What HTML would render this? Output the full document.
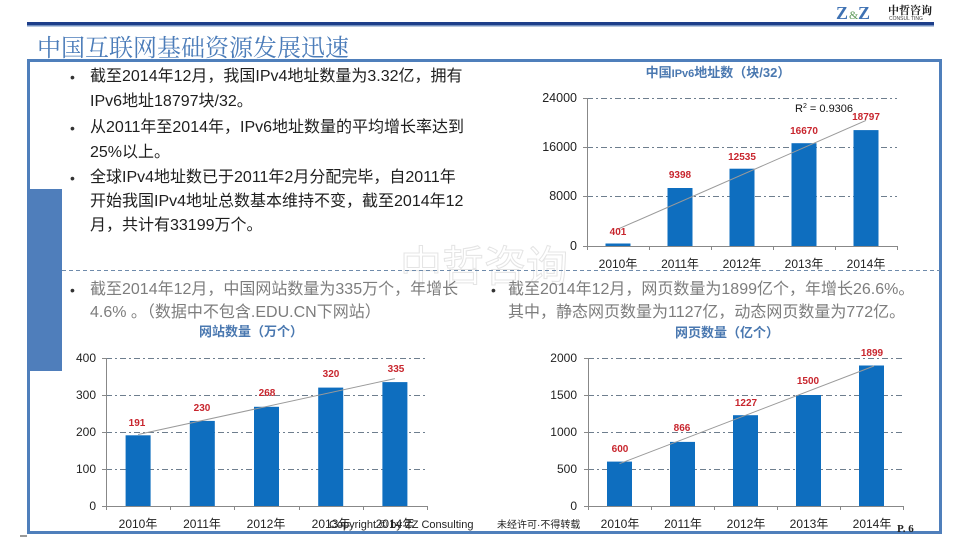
<!DOCTYPE html>
<html><head><meta charset="utf-8">
<style>
html,body{margin:0;padding:0;}
body{width:960px;height:540px;overflow:hidden;background:#fff;position:relative;font-family:"Liberation Sans","Noto Sans CJK SC",sans-serif;}
.t{position:absolute;white-space:nowrap;font-size:16px;line-height:20px;color:#1e1e1e;}
.g{color:#7d7d7d;}
.bl{position:absolute;font-size:14px;line-height:20px;color:#333;}
</style></head><body>
<svg width="960" height="540" viewBox="0 0 960 540" style="position:absolute;left:0;top:0" font-family="Liberation Sans, Noto Sans CJK SC, sans-serif">
  <!-- header lines -->
  <rect x="27" y="22" width="907" height="3" fill="#1d3e8a"/>
  <rect x="27" y="25" width="907" height="1.5" fill="#7290c0"/>
  <!-- logo -->
  <text x="836" y="19" font-family="Liberation Serif, serif" font-weight="bold" font-size="18" fill="#3f72b3">Z</text>
  <text x="849" y="19" font-family="Liberation Serif, serif" font-size="12" fill="#5f9a5a">&amp;</text>
  <text x="858" y="19" font-family="Liberation Serif, serif" font-weight="bold" font-size="18" fill="#3f72b3">Z</text>
  <text x="888" y="14" font-family="Noto Serif CJK SC, serif" font-weight="bold" font-size="11" fill="#222">中哲咨询</text>
  <text x="889" y="20" font-size="5" fill="#444">CONSUL TING</text>
  <!-- title -->
  <text x="37" y="56" font-family="Noto Serif CJK SC, serif" font-size="24" fill="#4b7cb9">中国互联网基础资源发展迅速</text>
  <!-- frame -->
  <rect x="28.5" y="60.5" width="912" height="472" fill="none" stroke="#4f7fbb" stroke-width="3"/>
  <rect x="27" y="189" width="35" height="182" fill="#4f7ebb"/>
  <line x1="20" y1="536" x2="27" y2="536" stroke="#333" stroke-width="1"/>
  <!-- watermark -->
  <text x="400" y="281" font-family="Noto Sans CJK SC, sans-serif" font-size="42" fill="none" stroke="#e4e4e4" stroke-width="1">中哲咨询</text>
  <!-- dashed divider -->
  <line x1="62" y1="270.5" x2="940" y2="270.5" stroke="#6f8bab" stroke-width="1" stroke-dasharray="4 3"/>

  <!-- ===== Chart 1 ===== -->
  <text x="718" y="77" text-anchor="middle" font-weight="bold" font-size="13" fill="#4a78b0">中国<tspan font-size="11">IPv6</tspan>地址数（块/32）</text>
  <g stroke="#6e7e8e" stroke-width="1" stroke-dasharray="6 3 2 3">
    <line x1="587" y1="98.5" x2="897" y2="98.5"/>
    <line x1="587" y1="147.5" x2="897" y2="147.5"/>
    <line x1="587" y1="196.5" x2="897" y2="196.5"/>
  </g>
  <g stroke="#888" stroke-width="1">
    <line x1="587.5" y1="98" x2="587.5" y2="246"/>
    <line x1="587" y1="246.5" x2="897" y2="246.5"/>
    <line x1="583" y1="98.5" x2="587" y2="98.5"/><line x1="583" y1="147.5" x2="587" y2="147.5"/><line x1="583" y1="196.5" x2="587" y2="196.5"/><line x1="583" y1="246.5" x2="587" y2="246.5"/>
    <line x1="587.5" y1="246" x2="587.5" y2="250"/><line x1="649.5" y1="246" x2="649.5" y2="250"/><line x1="711.5" y1="246" x2="711.5" y2="250"/><line x1="773.5" y1="246" x2="773.5" y2="250"/><line x1="835.5" y1="246" x2="835.5" y2="250"/><line x1="897.5" y1="246" x2="897.5" y2="250"/>
  </g>
  <g font-size="12.5" fill="#222" text-anchor="end">
    <text x="577" y="102">24000</text><text x="577" y="151">16000</text><text x="577" y="200">8000</text><text x="577" y="250">0</text>
  </g>
  <g fill="#0e6ebf">
    <rect x="605.5" y="243.5" width="25" height="2.5"/>
    <rect x="667.5" y="188" width="25" height="58"/>
    <rect x="729.5" y="168.7" width="25" height="77.3"/>
    <rect x="791.5" y="143.2" width="25" height="102.8"/>
    <rect x="853.5" y="130.1" width="25" height="115.9"/>
  </g>
  <line x1="618" y1="229.1" x2="866" y2="120.4" stroke="#9a9a9a" stroke-width="1"/>
  <g font-size="10" font-weight="bold" fill="#c8262e" text-anchor="middle">
    <text x="618" y="235">401</text><text x="680" y="178">9398</text><text x="742" y="160">12535</text><text x="804" y="134">16670</text><text x="866" y="120">18797</text>
  </g>
  <text x="795" y="112" font-size="11" fill="#111">R<tspan font-size="7" dy="-4">2</tspan><tspan dy="4"> = 0.9306</tspan></text>
  <g font-size="12" fill="#222" text-anchor="middle">
    <text x="618" y="268">2010年</text><text x="680" y="268">2011年</text><text x="742" y="268">2012年</text><text x="804" y="268">2013年</text><text x="866" y="268">2014年</text>
  </g>

  <!-- ===== Chart 2 ===== -->
  <text x="251" y="336" text-anchor="middle" font-weight="bold" font-size="13" fill="#4a78b0">网站数量（万个）</text>
  <g stroke="#6e7e8e" stroke-width="1" stroke-dasharray="6 3 2 3">
    <line x1="106" y1="358.5" x2="427" y2="358.5"/>
    <line x1="106" y1="395.5" x2="427" y2="395.5"/>
    <line x1="106" y1="432.5" x2="427" y2="432.5"/>
    <line x1="106" y1="469.5" x2="427" y2="469.5"/>
  </g>
  <g stroke="#888" stroke-width="1">
    <line x1="106.5" y1="358" x2="106.5" y2="506"/>
    <line x1="106" y1="506.5" x2="427" y2="506.5"/>
    <line x1="102" y1="358.5" x2="106" y2="358.5"/><line x1="102" y1="395.5" x2="106" y2="395.5"/><line x1="102" y1="432.5" x2="106" y2="432.5"/><line x1="102" y1="469.5" x2="106" y2="469.5"/><line x1="102" y1="506.5" x2="106" y2="506.5"/>
    <line x1="106.5" y1="506" x2="106.5" y2="510"/><line x1="170.5" y1="506" x2="170.5" y2="510"/><line x1="234.5" y1="506" x2="234.5" y2="510"/><line x1="299.5" y1="506" x2="299.5" y2="510"/><line x1="363.5" y1="506" x2="363.5" y2="510"/><line x1="427.5" y1="506" x2="427.5" y2="510"/>
  </g>
  <g font-size="12" fill="#222" text-anchor="end">
    <text x="96" y="362">400</text><text x="96" y="399">300</text><text x="96" y="436">200</text><text x="96" y="473">100</text><text x="96" y="510">0</text>
  </g>
  <g fill="#0e6ebf">
    <rect x="125.6" y="435.3" width="25" height="70.7"/>
    <rect x="189.8" y="420.9" width="25" height="85.1"/>
    <rect x="254" y="406.8" width="25" height="99.2"/>
    <rect x="318.2" y="387.6" width="25" height="118.4"/>
    <rect x="382.4" y="382.1" width="25" height="123.9"/>
  </g>
  <line x1="138.1" y1="434.5" x2="394.9" y2="378.6" stroke="#9a9a9a" stroke-width="1"/>
  <g font-size="10" font-weight="bold" fill="#c8262e" text-anchor="middle">
    <text x="137" y="426">191</text><text x="202" y="411">230</text><text x="267" y="396">268</text><text x="331" y="377">320</text><text x="396" y="372">335</text>
  </g>
  <g font-size="12" fill="#222" text-anchor="middle">
    <text x="138" y="528">2010年</text><text x="202" y="528">2011年</text><text x="266" y="528">2012年</text><text x="331" y="528">2013年</text><text x="395" y="528">2014年</text>
  </g>
  <text x="329" y="528" font-size="11" fill="#222">Copyright © by ZZ Consulting</text>

  <!-- ===== Chart 3 ===== -->
  <text x="727" y="337" text-anchor="middle" font-weight="bold" font-size="13" fill="#4a78b0">网页数量（亿个）</text>
  <g stroke="#6e7e8e" stroke-width="1" stroke-dasharray="6 3 2 3">
    <line x1="588" y1="358.5" x2="903" y2="358.5"/>
    <line x1="588" y1="395.5" x2="903" y2="395.5"/>
    <line x1="588" y1="432.5" x2="903" y2="432.5"/>
    <line x1="588" y1="469.5" x2="903" y2="469.5"/>
  </g>
  <g stroke="#888" stroke-width="1">
    <line x1="588.5" y1="358" x2="588.5" y2="506"/>
    <line x1="588" y1="506.5" x2="903" y2="506.5"/>
    <line x1="584" y1="358.5" x2="588" y2="358.5"/><line x1="584" y1="395.5" x2="588" y2="395.5"/><line x1="584" y1="432.5" x2="588" y2="432.5"/><line x1="584" y1="469.5" x2="588" y2="469.5"/><line x1="584" y1="506.5" x2="588" y2="506.5"/>
    <line x1="588.5" y1="506" x2="588.5" y2="510"/><line x1="651.5" y1="506" x2="651.5" y2="510"/><line x1="714.5" y1="506" x2="714.5" y2="510"/><line x1="777.5" y1="506" x2="777.5" y2="510"/><line x1="840.5" y1="506" x2="840.5" y2="510"/><line x1="903.5" y1="506" x2="903.5" y2="510"/>
  </g>
  <g font-size="12" fill="#222" text-anchor="end">
    <text x="577" y="362">2000</text><text x="577" y="399">1500</text><text x="577" y="436">1000</text><text x="577" y="473">500</text><text x="577" y="510">0</text>
  </g>
  <g fill="#0e6ebf">
    <rect x="607" y="461.6" width="25" height="44.4"/>
    <rect x="670" y="441.9" width="25" height="64.1"/>
    <rect x="733" y="415.2" width="25" height="90.8"/>
    <rect x="796" y="395" width="25" height="111"/>
    <rect x="859" y="365.5" width="25" height="140.5"/>
  </g>
  <line x1="619.5" y1="463.7" x2="874" y2="366" stroke="#9a9a9a" stroke-width="1"/>
  <g font-size="10" font-weight="bold" fill="#c8262e" text-anchor="middle">
    <text x="620" y="452">600</text><text x="682" y="431">866</text><text x="746" y="406">1227</text><text x="808" y="384">1500</text><text x="872" y="356">1899</text>
  </g>
  <g font-size="12" fill="#222" text-anchor="middle">
    <text x="620" y="528">2010年</text><text x="683" y="528">2011年</text><text x="746" y="528">2012年</text><text x="809" y="528">2013年</text><text x="872" y="528">2014年</text>
  </g>
  <text x="497" y="528" font-size="10" fill="#222">未经许可·不得转载</text>
  <text x="897" y="532" font-family="Liberation Serif, serif" font-weight="bold" font-size="11" fill="#222">P. 6</text>
</svg>

<div class="bl" style="left:70px;top:67px;">•</div>
<div class="t" style="left:90px;top:67px;">截至2014年12月，我国IPv4地址数量为3.32亿，拥有</div>
<div class="t" style="left:90px;top:92px;">IPv6地址18797块/32。</div>
<div class="bl" style="left:70px;top:118px;">•</div>
<div class="t" style="left:90px;top:118px;">从2011年至2014年，IPv6地址数量的平均增长率达到</div>
<div class="t" style="left:90px;top:143px;">25%以上。</div>
<div class="bl" style="left:70px;top:168px;">•</div>
<div class="t" style="left:90px;top:168px;">全球IPv4地址数已于2011年2月分配完毕，自2011年</div>
<div class="t" style="left:90px;top:192px;">开始我国IPv4地址总数基本维持不变，截至2014年12</div>
<div class="t" style="left:90px;top:216px;">月，共计有33199万个。</div>

<div class="bl g" style="left:70px;top:280px;">•</div>
<div class="t g" style="left:90px;top:280px;">截至2014年12月，中国网站数量为335万个，年增长</div>
<div class="t g" style="left:90px;top:303px;">4.6% 。（数据中不包含.EDU.CN下网站）</div>

<div class="bl g" style="left:491px;top:280px;">•</div>
<div class="t g" style="left:508px;top:280px;">截至2014年12月，网页数量为1899亿个，年增长26.6%。</div>
<div class="t g" style="left:508px;top:303px;">其中，静态网页数量为1127亿，动态网页数量为772亿。</div>
</body></html>
